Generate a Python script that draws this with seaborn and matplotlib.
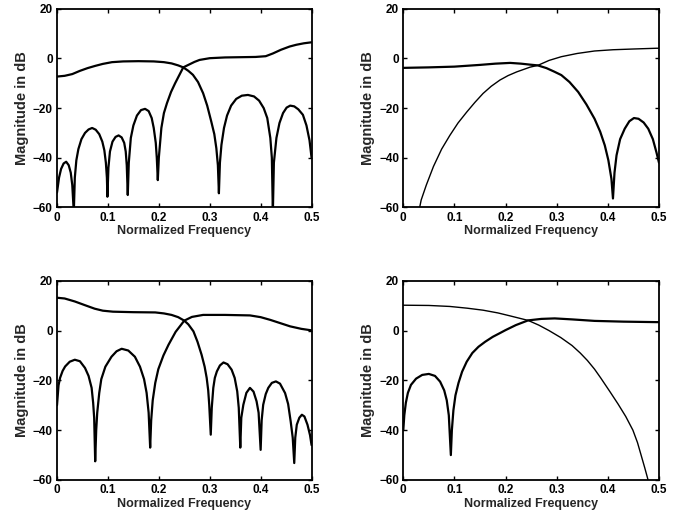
import numpy as np
import pandas as pd
import matplotlib
matplotlib.use("Agg")
import matplotlib.pyplot as plt
import seaborn as sns

# ---------------- data ----------------
# Panel 1 (top-left)
p1a_f = [0.0, 0.015, 0.03, 0.045, 0.06, 0.075, 0.09, 0.108, 0.13, 0.16, 0.19, 0.21, 0.225, 0.238,
         0.248, 0.258, 0.267, 0.277, 0.287, 0.295, 0.303, 0.309, 0.313, 0.316, 0.318,
         0.32, 0.323, 0.328, 0.334, 0.342, 0.352, 0.363, 0.375, 0.387, 0.397, 0.406, 0.413,
         0.419, 0.422, 0.424,
         0.426, 0.431, 0.437, 0.444, 0.451, 0.458, 0.466, 0.474, 0.483, 0.49, 0.496, 0.5]
p1a_m = [-7.3, -7.0, -6.3, -5.0, -3.9, -3.0, -2.2, -1.5, -1.2, -1.1, -1.2, -1.5, -2.0, -2.8,
         -3.6, -5.0, -6.6, -9.5, -14.0, -19.0, -25.4, -30.5, -36.2, -43.0, -54.3,
         -42.0, -34.8, -28.0, -23.0, -19.0, -16.3, -15.0, -14.7, -15.3, -17.0, -20.0, -24.0,
         -32.0, -40.0, -62.0,
         -42.0, -32.0, -26.0, -22.0, -19.8, -19.0, -19.3, -20.5, -22.7, -27.0, -33.0, -40.0]
p1b_f = [0.0, 0.004, 0.008, 0.013, 0.018, 0.023, 0.027, 0.030, 0.033,
         0.035, 0.038, 0.042, 0.048, 0.055, 0.062, 0.069, 0.076, 0.083, 0.089, 0.093, 0.096,
         0.098, 0.099,
         0.101, 0.104, 0.109, 0.115, 0.121, 0.127, 0.132, 0.135, 0.137, 0.139,
         0.141, 0.145, 0.15, 0.157, 0.165, 0.173, 0.18, 0.186, 0.19, 0.194, 0.196, 0.198,
         0.2, 0.205, 0.21, 0.216, 0.224, 0.232, 0.24, 0.248, 0.26, 0.27, 0.28, 0.3, 0.33,
         0.36, 0.39, 0.41, 0.424, 0.44, 0.457, 0.47, 0.485, 0.5]
p1b_m = [-54.0, -48.0, -44.5, -42.3, -41.6, -43.0, -46.0, -51.0, -62.0,
         -48.0, -41.0, -36.5, -32.5, -30.0, -28.6, -28.0, -28.7, -30.5, -33.5, -37.0, -42.0,
         -48.0, -55.7,
         -44.0, -37.5, -33.5, -31.6, -31.0, -31.8, -34.0, -37.5, -43.0, -55.0,
         -42.0, -32.0, -27.0, -23.0, -20.8, -20.3, -21.2, -24.0, -28.0, -34.0, -40.0, -49.0,
         -40.0, -28.0, -22.0, -18.0, -13.5, -10.0, -6.8, -3.6, -2.4, -1.4, -0.6, 0.1, 0.4,
         0.5, 0.6, 0.9, 2.0, 3.5, 4.8, 5.5, 6.1, 6.5]

# Panel 2 (top-right)
p2a_f = [0.0, 0.05, 0.1, 0.15, 0.18, 0.209, 0.23, 0.248, 0.263, 0.28, 0.295, 0.309, 0.325,
         0.342, 0.358, 0.374, 0.385, 0.394, 0.401, 0.407, 0.41,
         0.413, 0.417, 0.424, 0.433, 0.442, 0.451, 0.46, 0.47, 0.479, 0.488, 0.495, 0.5]
p2a_m = [-3.8, -3.6, -3.3, -2.6, -2.1, -1.8, -2.1, -2.5, -2.8, -3.9, -5.3, -6.7, -9.5,
         -13.5, -18.5, -24.3, -29.5, -35.0, -41.0, -48.5, -56.4,
         -46.0, -39.0, -32.5, -28.3, -25.3, -24.0, -24.3, -25.8, -28.3, -32.5, -37.8, -42.0]
p2b_f = [0.03, 0.035, 0.045, 0.059, 0.075, 0.091, 0.107, 0.124, 0.14, 0.156, 0.172, 0.189,
         0.205, 0.222, 0.248, 0.263, 0.285, 0.309, 0.34, 0.374, 0.41, 0.45, 0.495, 0.5]
p2b_m = [-62.0, -57.0, -51.0, -43.5, -36.5, -31.0, -26.0, -21.6, -17.7, -14.1, -11.2, -8.7,
         -6.9, -5.4, -3.5, -2.8, -0.8, 0.7, 2.0, 3.0, 3.5, 3.8, 4.1, 4.1]

# Panel 3 (bottom-left)
p3a_f = [0.0, 0.015, 0.035, 0.055, 0.074, 0.09, 0.11, 0.15, 0.193, 0.21, 0.225, 0.238, 0.25,
         0.258, 0.268, 0.276, 0.284, 0.29, 0.294, 0.297, 0.299, 0.302,
         0.304, 0.307, 0.31, 0.314, 0.32, 0.327, 0.335, 0.343, 0.349, 0.354, 0.357, 0.36,
         0.362, 0.366, 0.372, 0.379, 0.386, 0.392, 0.396, 0.4,
         0.402, 0.405, 0.41, 0.415, 0.422, 0.43, 0.438, 0.448, 0.454, 0.459, 0.463, 0.466,
         0.468, 0.471, 0.476, 0.481, 0.486, 0.492, 0.497, 0.5]
p3a_m = [13.2, 12.9, 11.7, 10.2, 8.8, 8.0, 7.6, 7.4, 7.3, 6.9, 6.3, 5.4, 4.0,
         2.5, -0.3, -4.5, -9.7, -14.5, -19.0, -24.0, -29.8, -41.8,
         -31.0, -23.0, -19.0, -16.4, -14.0, -12.8, -13.5, -15.7, -19.0, -24.4, -31.0, -47.0,
         -35.0, -29.8, -25.0, -23.0, -24.5, -28.4, -33.0, -47.9,
         -36.0, -29.8, -25.5, -23.0, -21.0, -20.4, -21.3, -25.1, -29.5, -36.5, -43.0, -53.2,
         -43.0, -37.8, -35.0, -33.8, -34.5, -37.8, -42.0, -46.0]
p3b_f = [0.0, 0.003, 0.006, 0.011, 0.016, 0.025, 0.035, 0.045, 0.055, 0.062, 0.068, 0.071,
         0.073, 0.075,
         0.077, 0.079, 0.083, 0.087, 0.095, 0.107, 0.117, 0.127, 0.14, 0.153, 0.163, 0.171,
         0.176, 0.18, 0.183,
         0.185, 0.188, 0.193, 0.199, 0.209, 0.219, 0.233, 0.25, 0.265, 0.287, 0.33, 0.379,
         0.4, 0.419, 0.44, 0.458, 0.48, 0.5]
p3b_m = [-30.0, -22.0, -19.0, -16.2, -14.4, -12.5, -11.7, -12.3, -15.0, -18.2, -23.0, -29.0,
         -35.0, -52.5,
         -40.0, -33.0, -25.0, -19.5, -14.5, -10.5, -8.3, -7.3, -8.0, -10.5, -14.5, -19.5,
         -25.0, -33.0, -47.0,
         -36.0, -28.0, -21.0, -15.5, -10.0, -5.7, -0.5, 4.0, 5.5, 6.3, 6.3, 6.1,
         5.4, 4.3, 2.9, 1.7, 0.7, 0.1]

# Panel 4 (bottom-right)
p4a_f = [0.0, 0.05, 0.091, 0.125, 0.156, 0.185, 0.209, 0.244, 0.265, 0.285, 0.308, 0.33,
         0.346, 0.36, 0.374, 0.386, 0.404, 0.42, 0.435, 0.449, 0.458, 0.465, 0.472, 0.478,
         0.481]
p4a_m = [10.2, 10.1, 9.7, 9.0, 8.2, 7.1, 5.9, 4.1, 2.2, 0.0, -2.8, -6.0,
         -9.0, -12.0, -15.5, -19.0, -24.5, -29.5, -34.5, -40.0, -45.0, -50.0, -55.0, -59.5,
         -62.0]
p4b_f = [0.0, 0.002, 0.005, 0.009, 0.015, 0.025, 0.037, 0.05, 0.062, 0.072, 0.08, 0.085,
         0.089, 0.093,
         0.095, 0.098, 0.102, 0.108, 0.115, 0.124, 0.135, 0.147, 0.16, 0.175, 0.189, 0.2,
         0.22, 0.244, 0.27, 0.296, 0.33, 0.374, 0.43, 0.495, 0.5]
p4b_m = [-40.0, -34.0, -29.0, -25.0, -21.8, -19.3, -17.8, -17.4, -18.2, -20.5, -24.0, -28.0,
         -34.0, -50.0,
         -40.0, -32.0, -26.0, -21.0, -16.5, -12.5, -9.0, -6.5, -4.5, -2.5, -1.0, 0.2,
         2.2, 4.1, 4.7, 4.9, 4.5, 3.9, 3.6, 3.4, 3.4]

xticks = [0, 0.1, 0.2, 0.3, 0.4, 0.5]
xticklabels = ["0", "0.1", "0.2", "0.3", "0.4", "0.5"]
yticks = [-60, -40, -20, 0, 20]
xlabel = "Normalized Frequency"
ylabel = "Magnitude in dB"

panels = [
    ((p1a_f, p1a_m, 1.6), (p1b_f, p1b_m, 1.6)),
    ((p2a_f, p2a_m, 1.6), (p2b_f, p2b_m, 1.0)),
    ((p3a_f, p3a_m, 1.6), (p3b_f, p3b_m, 1.6)),
    ((p4a_f, p4a_m, 1.0), (p4b_f, p4b_m, 1.6)),
]

# ---------------- style ----------------
sns.set_style("ticks")
plt.rcParams["font.family"] = ["Liberation Sans", "DejaVu Sans"]
plt.rcParams["font.weight"] = "bold"
plt.rcParams["axes.unicode_minus"] = True

fig = plt.figure(figsize=(6.77, 5.16), dpi=100)
positions = [
    [0.0842, 0.598, 0.376, 0.385],
    [0.5957, 0.598, 0.3777, 0.385],
    [0.0842, 0.0698, 0.376, 0.386],
    [0.5957, 0.0698, 0.3777, 0.386],
]

for pos, curves in zip(positions, panels):
    ax = fig.add_axes(pos)
    for f, m, lw in curves:
        df = pd.DataFrame({"freq": f, "mag": m})
        sns.lineplot(data=df, x="freq", y="mag", ax=ax, color="black",
                     linewidth=lw, sort=False, estimator=None)
    ax.set_xlim(0, 0.5)
    ax.set_ylim(-60, 20)
    ax.set_xticks(xticks)
    ax.set_xticklabels(xticklabels)
    ax.set_yticks(yticks)
    ax.tick_params(direction="in", top=True, right=True, length=3, width=1,
                   labelsize=8.5, pad=3, colors="black")
    for lab in ax.get_xticklabels() + ax.get_yticklabels():
        lab.set_fontweight("bold")
    for sp in ax.spines.values():
        sp.set_linewidth(1.3)
        sp.set_color("black")
        sp.set_visible(True)
    ax.set_xlabel(xlabel, fontsize=9, fontweight="bold", labelpad=1)
    ax.set_ylabel(ylabel, fontsize=10.5, fontweight="bold", labelpad=3)

fig.savefig("out.png", dpi=100, facecolor="white")
